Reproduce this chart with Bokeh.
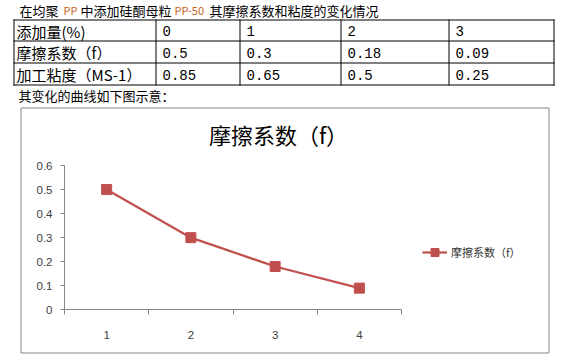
from bokeh.plotting import figure
from bokeh.models import (ColumnDataSource, FixedTicker, Range1d, Legend, LegendItem,
                          LinearAxis, NumeralTickFormatter)
from bokeh.embed import file_html
from bokeh.resources import INLINE
from bokeh.core.properties import value

# ---------------- data ----------------
heading_parts = ["在均聚", "PP", "中添加硅酮母粒", "PP-50", "其摩擦系数和粘度的变化情况"]
caption = "其变化的曲线如下图示意："

addition_label = "添加量(%)"
additions = ["0", "1", "2", "3"]
friction_label = "摩擦系数（f）"
friction = [0.5, 0.3, 0.18, 0.09]
viscosity_label = "加工粘度（MS-1）"
viscosity = [0.85, 0.65, 0.5, 0.25]

chart_title = "摩擦系数（f）"
series_name = "摩擦系数（f）"
x_labels = ["1", "2", "3", "4"]
y_ticks = [0, 0.1, 0.2, 0.3, 0.4, 0.5, 0.6]

# ---------------- style / layout (page pixels) ----------------
W, H = 561, 358
PX0, PX1, PY0, PY1 = 0, W, 0, H                   # canvas on the page
AX_L, AX_R, AX_T, AX_B = 64, 401, 165, 309.3      # plotting area of the chart
CJK = "Noto Sans CJK SC"
RED = "#C0504D"
GREY = "#868686"

xs = [i + 1 for i in range(len(x_labels))]
x_lo, x_hi = xs[0] - 0.5, xs[-1] + 0.5
y_lo, y_hi = y_ticks[0], y_ticks[-1]
kx = (AX_R - AX_L) / (x_hi - x_lo)
ky = (AX_B - AX_T) / (y_hi - y_lo)
x_range = Range1d(x_lo - (AX_L - PX0) / kx, x_hi + (PX1 - AX_R) / kx)
y_range = Range1d(y_lo - (PY1 - AX_B) / ky, y_hi + (AX_T - PY0) / ky)

p = figure(width=W, height=H, x_range=x_range, y_range=y_range,
           output_backend="svg", toolbar_location=None, min_border=0,
           x_axis_location=None, y_axis_location=None)
p.grid.visible = False
p.outline_line_color = None
p.extra_x_ranges = {"px": Range1d(PX0, PX1)}
p.extra_y_ranges = {"py": Range1d(PY1, PY0)}
PXY = dict(x_range_name="px", y_range_name="py")

# ---- heading line ----
head_x = [19, 63, 80, 174, 209]
head_col = ["#000000", "#C8641E", "#000000", "#C8641E", "#000000"]
head_size = ["13px", "11px", "13px", "11px", "13px"]
p.text(x=head_x, y=[9.5] * 5, text=heading_parts, text_color=head_col,
       text_font=value(CJK), text_font_size=head_size, text_baseline="middle", **PXY)

# ---- table ----
col_edges = [13, 155, 239, 340, 448, 553]
row_edges = [19, 40, 62, 84]
hx0, hx1, hy = [], [], []
for r in row_edges:
    hx0.append(col_edges[0]); hx1.append(col_edges[-1] + 1); hy.append(r + 0.5)
p.segment(x0=hx0, y0=hy, x1=hx1, y1=hy, line_color="black", line_width=1, **PXY)
vx, vy0, vy1 = [], [], []
for c in col_edges:
    vx.append(c + 0.5); vy0.append(row_edges[0]); vy1.append(row_edges[-1] + 1)
p.segment(x0=vx, y0=vy0, x1=vx, y1=vy1, line_color="black", line_width=1, **PXY)

rows = [(addition_label, additions),
        (friction_label, [str(v) for v in friction]),
        (viscosity_label, [str(v) for v in viscosity])]
lab_x, lab_y, lab_t = [], [], []
num_x, num_y, num_t = [], [], []
for i, (lab, vals) in enumerate(rows):
    yc = (row_edges[i] + row_edges[i + 1]) / 2 + 1
    lab_x.append(col_edges[0] + 3); lab_y.append(yc); lab_t.append(lab)
    for j, v in enumerate(vals):
        num_x.append(col_edges[j + 1] + 7); num_y.append(yc); num_t.append(v)
p.text(x=lab_x, y=lab_y, text=lab_t, text_font=value(CJK), text_font_size="15px",
       text_baseline="middle", text_color="black", **PXY)
p.text(x=num_x, y=num_y, text=num_t, text_font=value("Liberation Mono"),
       text_font_size="14px", text_baseline="middle", text_color="black", **PXY)

p.text(x=[18], y=[94.5], text=[caption], text_font=value(CJK), text_font_size="13px",
       text_baseline="middle", text_color="black", **PXY)

# ---- chart box and title ----
p.quad(left=[20.5], right=[548.5], top=[107.5], bottom=[352.5], fill_color=None,
       line_color=GREY, line_width=1, **PXY)
p.text(x=[278], y=[133], text=[chart_title], text_font=value(CJK), text_font_size="22px",
       text_align="center", text_baseline="middle", text_color="black", **PXY)

# ---- series ----
src = ColumnDataSource(data=dict(x=xs, y=friction))
line_r = p.line(x="x", y="y", source=src, line_color=RED, line_width=2.25)
sc_r = p.scatter(x="x", y="y", source=src, marker="square", size=10,
                 fill_color=RED, line_color=RED)

# ---- axes ----
xa = LinearAxis(fixed_location=y_lo, bounds=(x_lo, x_hi))
xa.ticker = FixedTicker(ticks=xs, minor_ticks=[x - 0.5 for x in xs] + [x_hi])
xa.major_label_overrides = {x: lab for x, lab in zip(xs, x_labels)}
xa.major_tick_out = 0
xa.major_tick_in = 0
xa.minor_tick_out = 5
xa.minor_tick_in = 0
xa.minor_tick_line_color = GREY
xa.major_label_standoff = 16

ya = LinearAxis(fixed_location=x_lo, bounds=(y_lo, y_hi))
ya.ticker = FixedTicker(ticks=y_ticks, minor_ticks=[])
ya.formatter = NumeralTickFormatter(format="0.[0]")
ya.major_tick_out = 4
ya.major_tick_in = 0
ya.minor_tick_out = 0
ya.major_label_standoff = 8

for ax in (xa, ya):
    ax.axis_line_color = GREY
    ax.major_tick_line_color = GREY
    ax.major_label_text_font = "Liberation Sans"
    ax.major_label_text_font_size = "11.5px"
    ax.major_label_text_color = "#404040"
p.add_layout(xa, "below")
p.add_layout(ya, "left")

# ---- legend ----
legend = Legend(items=[LegendItem(label=series_name, renderers=[line_r, sc_r])],
                location=(422 - PX0, PY1 - 262), border_line_color=None,
                background_fill_alpha=0, padding=0, margin=0, spacing=0,
                glyph_width=25, glyph_height=20, label_standoff=4,
                label_text_font=CJK, label_text_font_size="11px",
                label_text_color="#333333")
p.add_layout(legend)

open("out.html", "w").write(file_html(p, INLINE))
